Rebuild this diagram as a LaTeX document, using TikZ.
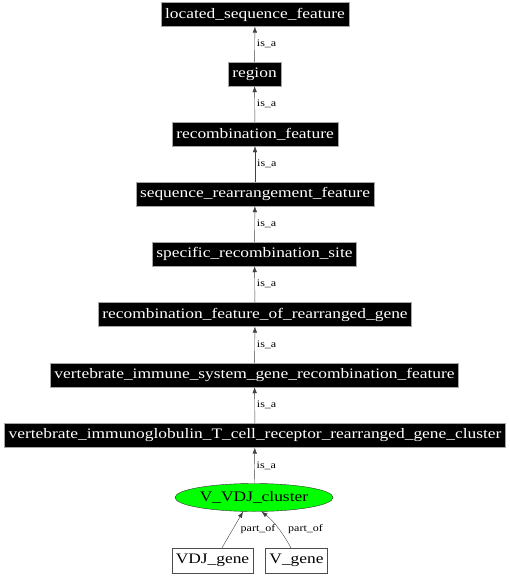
\documentclass[tikz,border=0pt]{standalone}
\usepackage{fontspec}
\setmainfont{Liberation Serif}[FakeStretch=1.2]
\usetikzlibrary{shapes.geometric,arrows.meta}
\begin{document}
\begin{tikzpicture}[x=1pt,y=-1pt,
  term/.style={rectangle,fill=black,draw=gray!70,text=white,font=\fontsize{14.5}{15}\selectfont,inner xsep=4pt,inner ysep=0pt,minimum height=24pt},
  leaf/.style={rectangle,fill=white,draw=black!70,text=black,font=\fontsize{14.5}{15}\selectfont,inner xsep=4pt,inner ysep=0pt,minimum height=25pt},
  focus/.style={ellipse,fill=green,draw=black!80,font=\fontsize{14.5}{15}\selectfont,minimum width=158pt,minimum height=28pt,inner sep=0pt},
  rel/.style={draw=black!75,-{Latex[length=6pt,width=4.5pt]}},
  lab/.style={font=\fontsize{10}{11}\selectfont,text=black,inner sep=1pt}]
\useasboundingbox (0,0) rectangle (510,576);
\node[term] (n1) at (255,14.5) {located\_sequence\_feature};
\node[term] (n2) at (254.5,74) {region};
\node[term] (n3) at (255,134) {recombination\_feature};
\node[term] (n4) at (255,194) {sequence\_rearrangement\_feature};
\node[term] (n5) at (254.5,254) {specific\_recombination\_site};
\node[term] (n6) at (255,314.5) {recombination\_feature\_of\_rearranged\_gene};
\node[term] (n7) at (254.5,375) {vertebrate\_immune\_system\_gene\_recombination\_feature};
\node[term] (n8) at (255,435.5) {vertebrate\_immunoglobulin\_T\_cell\_receptor\_rearranged\_gene\_cluster};
\node[focus] (n9) at (254,497.5) {V\_VDJ\_cluster};
\node[leaf] (g1) at (212.5,560.5) {VDJ\_gene};
\node[leaf] (g2) at (296.5,560.5) {V\_gene};
\draw[rel] (n2) -- node[lab,right,xshift=1pt] {is\_a} (n1);
\draw[rel] (n3) -- node[lab,right,xshift=1pt] {is\_a} (n2);
\draw[rel] (n4) -- node[lab,right,xshift=1pt] {is\_a} (n3);
\draw[rel] (n5) -- node[lab,right,xshift=1pt] {is\_a} (n4);
\draw[rel] (n6) -- node[lab,right,xshift=1pt] {is\_a} (n5);
\draw[rel] (n7) -- node[lab,right,xshift=1pt] {is\_a} (n6);
\draw[rel] (n8) -- node[lab,right,xshift=1pt] {is\_a} (n7);
\draw[rel] (n9) -- node[lab,right,xshift=1pt] {is\_a} (n8);
\draw[rel] (g1.north -| 222,0) -- (n9.south -| 243,0);
\node[lab] (pl1) at (258,529) {part\_of};
\coordinate (v2s) at (291,548);
\draw[rel] (v2s) .. controls (284,535) and (275,522) .. (n9.-62);
\node[lab] (pl2) at (305.5,529) {part\_of};
\end{tikzpicture}
\end{document}
